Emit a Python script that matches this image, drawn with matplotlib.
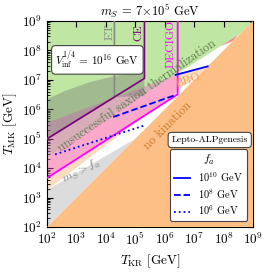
import numpy as np
import matplotlib
matplotlib.use("Agg")
import matplotlib.pyplot as plt
from matplotlib.lines import Line2D

plt.rcParams["font.family"] = "serif"
plt.rcParams["font.serif"] = ["cmr10", "DejaVu Serif"]
plt.rcParams["mathtext.fontset"] = "cm"
plt.rcParams["axes.formatter.use_mathtext"] = True

# all boundaries given as log10(T_KR), log10(T_MK)
no_kination = [(2, 2), (9, 9), (9, 2)]
ms_gt_fa = [(2, 2), (2, 3.26), (5.0, 5.0)]
bbo_region = [(2, 3.26), (7.25, 7.25), (7.46, 7.46), (6.37, 7.17), (2, 4.37)]
unsuccessful = [(2, 4.37), (8.59, 8.59), (9, 9), (2, 9)]
pink_region = [(2, 3.67), (6.44, 6.51), (6.44, 7.19), (2, 5.55)]
dark_region = [(2, 6.35), (2.6, 6.62), (3.47, 6.93), (4.3, 7.13), (5.31, 7.3),
               (5.31, 6.45), (4.29, 6.42), (2, 5.0)]
red_sliver = [(7.9, 8.15), (8.5, 8.53), (8.3, 8.31)]

et_line = [(4.29, 9), (4.29, 6.42), (2, 5.0)]
ce_line = [(5.31, 9), (5.31, 7.05), (2, 5.0)]
decigo_line = [(6.44, 9), (6.44, 6.51), (2, 3.67)]

fa_labels = [r"$10^{10}$ GeV", r"$10^{8}$ GeV", r"$10^{6}$ GeV"]
fa_styles = ["-", "--", ":"]
fa_lines = [
    [(6.37, 7.17), (7.46, 7.46)],
    [(4.25, 5.74), (6.37, 6.49)],
    [(2.27, 4.47), (5.3, 5.45)],
]


def xy(pts):
    a = np.array(pts, dtype=float)
    return 10 ** a[:, 0], 10 ** a[:, 1]


fig = plt.figure(figsize=(2.66, 2.73), dpi=100)
ax = fig.add_axes([0.177, 0.168, 0.774, 0.755])
ax.set_xscale("log")
ax.set_yscale("log")

ax.fill(*xy(bbo_region), color="#fbdcc0", lw=0, zorder=1)
ax.fill(*xy(ms_gt_fa), color="#dcdcdc", lw=0, zorder=1)
ax.fill(*xy(unsuccessful), color="#bfe6a2", lw=0, zorder=1)
ax.fill(*xy(pink_region), color="#ff55dd", alpha=0.38, lw=0, zorder=2)
ax.fill(*xy(dark_region), color="#6e6e6e", alpha=0.36, lw=0, zorder=2)
ax.fill(*xy(no_kination), color="#fdbf86", lw=0, zorder=3)
ax.fill(*xy(red_sliver), color="#f08a8a", lw=0, zorder=3)

ax.plot(*xy(et_line), color="#888888", lw=1.2, zorder=4)
ax.plot(*xy(ce_line), color="#800080", lw=1.2, zorder=4)
ax.plot(*xy(decigo_line), color="#ff00ff", lw=1.3, zorder=4)
for pts, ls in zip(fa_lines, fa_styles):
    ax.plot(*xy(pts), color="blue", ls=ls, lw=1.3, zorder=5)

ax.text(10**4.12, 10**8.65, "ET", color="#888888", rotation=90, fontsize=8.5,
        ha="center", va="center", zorder=6)
ax.text(10**5.12, 10**8.6, "CE", color="#800080", rotation=90, fontsize=8.5,
        ha="center", va="center", zorder=6)
ax.text(10**6.2, 10**8.22, "DECIGO", color="#ff00ff", rotation=90, fontsize=8.5,
        ha="center", va="center", zorder=6)
ax.text(10**6.8, 10**6.98, "BBO", color="#f5a050", rotation=18, fontsize=8.5,
        ha="center", va="center", zorder=6)
ax.text(10**5.06, 10**6.47, "unsuccessful saxion thermalization", color="#5f7a50",
        rotation=34.5, fontsize=9, ha="center", va="center", zorder=6)
ax.text(10**6.1, 10**5.45, "no kination", color="#c8782d", rotation=45,
        fontsize=9, ha="center", va="center", zorder=6)
ax.text(10**3.15, 10**3.88, r"$m_S > f_a$", color="#808080", rotation=27,
        fontsize=8.5, ha="center", va="center", zorder=6)

box = dict(boxstyle="round,pad=0.35", fc="white", ec="#444444", lw=0.8)
ax.text(10**3.71, 10**7.68, r"$V_{\rm inf}^{1/4}$ = $10^{16}$ GeV", fontsize=8,
        ha="center", va="center", bbox=box, zorder=7)
ax.text(10**7.53, 10**4.96, "Lepto-ALPgenesis", fontsize=7,
        ha="center", va="center", bbox=box, zorder=7)

handles = [Line2D([], [], color="blue", ls=ls, lw=1.3) for ls in fa_styles]
leg = ax.legend(handles, fa_labels, title=r"$f_a$", loc="lower right",
                fontsize=7.5, title_fontsize=8.5, fancybox=True, framealpha=1,
                edgecolor="#444444", handlelength=1.5, borderaxespad=0.55,
                labelspacing=0.3)
leg.get_frame().set_linewidth(0.8)
leg.set_zorder(8)

ax.set_xlim(1e2, 1e9)
ax.set_ylim(1e2, 1e9)
ax.set_xticks([10.0**k for k in range(2, 10)])
ax.set_yticks([10.0**k for k in range(2, 10)])
ax.tick_params(which="both", direction="in", top=True, right=True, labelsize=9.5)
ax.tick_params(which="major", length=4)
ax.tick_params(which="minor", length=2)
ax.set_xlabel(r"$T_{\rm KR}$ [GeV]", fontsize=9.5, labelpad=3)
ax.set_ylabel(r"$T_{\rm MK}$ [GeV]", fontsize=9.5, labelpad=2)
ax.set_title(r"$m_S$ = $7{\times}10^5$ GeV", fontsize=9, pad=4)

fig.savefig("out.png", dpi=100)
